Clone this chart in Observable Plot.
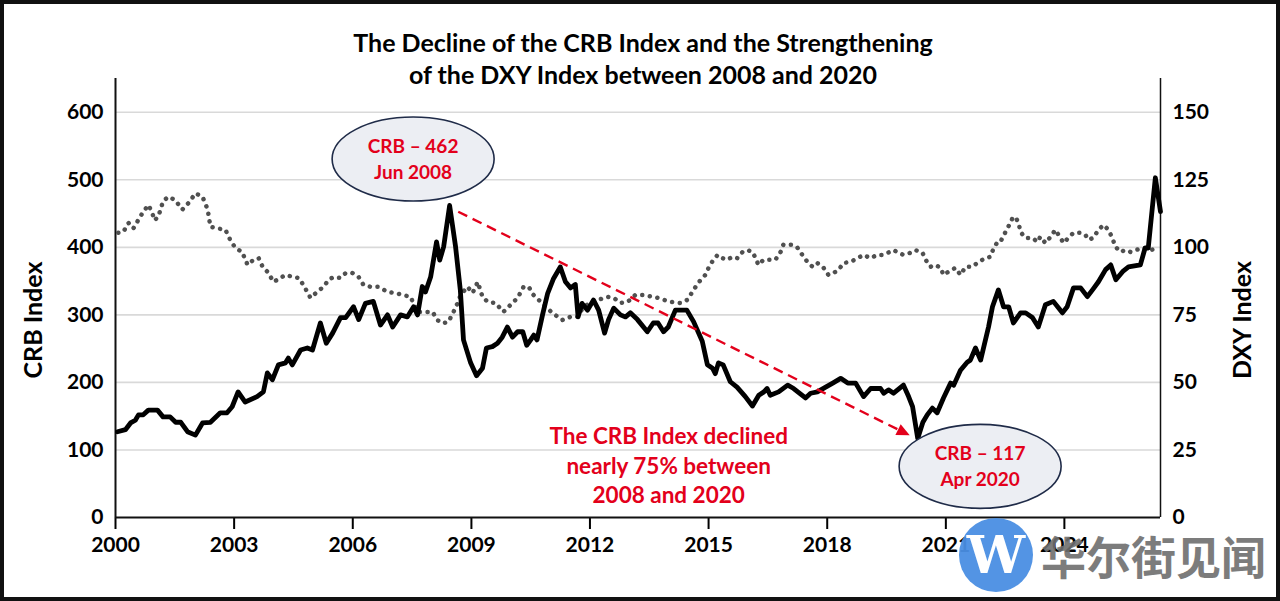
<!DOCTYPE html>
<html>
<head>
<meta charset="utf-8">
<script src="https://cdn.jsdelivr.net/npm/d3@7"></script>
<script src="https://cdn.jsdelivr.net/npm/@observablehq/plot@0.6"></script>
<style>
  html, body { margin: 0; padding: 0; background: #fff; }
  #wrap { position: relative; width: 1280px; height: 601px; overflow: hidden; background: #fff; font-family: Lato, "Open Sans", sans-serif; }
  #chart { position: absolute; left: 0; top: 0; }
  .title { position: absolute; left: 0; width: 1286px; text-align: center; font-weight: bold; font-size: 25px; line-height: 30px; color: #000; }
  .ylab { position: absolute; font-weight: bold; font-size: 25px; color: #000; transform: translate(-50%, -50%) rotate(-90deg); white-space: nowrap; }
  #frame { position: absolute; left: 0; top: 0; width: 1280px; height: 601px; box-sizing: border-box; border: 4px solid #111; pointer-events: none; }
  #wm-logo { position: absolute; left: 959px; top: 518px; width: 74px; height: 74px; border-radius: 50%; background: #4a8fe3; color: #fff; font: bold 52px "DejaVu Serif", serif; text-align: center; line-height: 74px; opacity: 0.95; }
  #wm-text { position: absolute; left: 1041px; top: 535px; font: bold 45px "Noto Sans CJK SC", sans-serif; color: #6e6e6e; opacity: 0.9; white-space: nowrap; line-height: 42px; height: 42px; }
</style>
</head>
<body>
<div id="wrap">
  <div id="chart"></div>
  <div class="title" style="top:27px;">The Decline of the CRB Index and the Strengthening</div>
  <div class="title" style="top:59px;">of the DXY Index between 2008 and 2020</div>
  <div class="ylab" style="left:32px; top:320px;">CRB Index</div>
  <div class="ylab" style="left:1241px; top:320px;">DXY Index</div>
  <div id="wm-logo">W</div>
  <div id="wm-text">华尔街见闻</div>
  <div id="frame"></div>
</div>
<script>
// ---- Data (decimal years) ----
const crbYears = [2000.05,2000.25,2000.38,2000.5,2000.58,2000.7,2000.83,2001.06,2001.2,2001.38,2001.52,2001.65,2001.82,2002.02,2002.2,2002.4,2002.65,2002.82,2002.95,2003.1,2003.28,2003.58,2003.74,2003.84,2003.97,2004.12,2004.3,2004.37,2004.47,2004.68,2004.85,2004.98,2005.18,2005.33,2005.49,2005.69,2005.82,2006.02,2006.15,2006.32,2006.52,2006.7,2006.88,2007.01,2007.21,2007.38,2007.54,2007.64,2007.76,2007.84,2007.97,2008.12,2008.2,2008.3,2008.45,2008.6,2008.72,2008.8,2008.98,2009.13,2009.28,2009.38,2009.53,2009.66,2009.78,2009.91,2010.04,2010.17,2010.3,2010.4,2010.5,2010.58,2010.66,2010.8,2010.93,2011.08,2011.25,2011.38,2011.51,2011.63,2011.7,2011.8,2011.94,2012.09,2012.22,2012.37,2012.47,2012.6,2012.77,2012.9,2013.02,2013.2,2013.45,2013.6,2013.72,2013.86,2013.98,2014.16,2014.33,2014.45,2014.62,2014.84,2014.97,2015.1,2015.17,2015.25,2015.37,2015.55,2015.72,2015.93,2016.11,2016.27,2016.4,2016.48,2016.56,2016.77,2017.0,2017.15,2017.45,2017.58,2017.75,2017.96,2018.14,2018.34,2018.52,2018.72,2018.92,2019.1,2019.35,2019.43,2019.55,2019.68,2019.93,2020.06,2020.16,2020.29,2020.42,2020.53,2020.66,2020.78,2020.94,2021.12,2021.2,2021.37,2021.54,2021.62,2021.75,2021.88,2022.08,2022.18,2022.33,2022.46,2022.59,2022.71,2022.89,2023.02,2023.19,2023.34,2023.52,2023.72,2023.95,2024.07,2024.23,2024.41,2024.58,2024.71,2024.86,2025.04,2025.17,2025.3,2025.47,2025.62,2025.92,2026.04,2026.12,2026.3,2026.43];
const crbValues = [127,130,140,144,152,152,159,159,149,149,141,141,127,122,140,141,155,155,164,186,171,179,186,214,204,226,229,236,226,248,251,248,288,258,273,296,296,312,293,317,320,285,300,282,300,297,312,300,342,334,356,408,381,401,462,401,337,263,229,210,221,251,253,258,267,282,267,275,275,255,263,270,263,300,332,354,371,349,340,345,297,317,307,322,307,273,293,310,300,297,303,293,275,288,288,275,282,307,307,307,290,261,226,221,213,229,226,201,193,179,165,181,186,191,181,186,196,191,177,184,186,193,199,206,199,199,179,191,191,184,189,184,196,179,164,117,141,152,162,155,177,199,196,218,230,233,251,233,282,312,337,312,312,288,303,303,296,282,315,320,303,312,340,340,327,337,349,367,374,352,364,371,374,399,399,503,453];

const dxyYears = [2000.07,2000.2,2000.33,2000.45,2000.55,2000.68,2000.83,2000.93,2000.98,2001.08,2001.2,2001.33,2001.5,2001.69,2001.85,2002.02,2002.2,2002.33,2002.4,2002.58,2002.78,2002.9,2003.03,2003.2,2003.34,2003.49,2003.62,2003.72,2003.84,2004.0,2004.17,2004.3,2004.5,2004.63,2004.75,2004.93,2005.1,2005.26,2005.39,2005.51,2005.69,2005.82,2005.99,2006.15,2006.27,2006.45,2006.65,2006.88,2007.08,2007.26,2007.46,2007.64,2007.79,2008.02,2008.14,2008.27,2008.42,2008.6,2008.73,2008.9,2009.03,2009.16,2009.28,2009.41,2009.61,2009.81,2009.99,2010.17,2010.32,2010.45,2010.57,2010.7,2010.88,2011.05,2011.3,2011.51,2011.68,2011.84,2012.01,2012.22,2012.44,2012.6,2012.77,2012.95,2013.15,2013.35,2013.58,2013.71,2013.86,2014.04,2014.29,2014.47,2014.62,2014.8,2014.92,2015.0,2015.12,2015.23,2015.35,2015.48,2015.6,2015.73,2015.86,2015.98,2016.11,2016.19,2016.26,2016.39,2016.57,2016.69,2016.82,2016.89,2017.12,2017.25,2017.37,2017.5,2017.63,2017.75,2017.91,2018.03,2018.16,2018.29,2018.41,2018.59,2018.77,2018.92,2019.09,2019.27,2019.42,2019.68,2019.8,2019.93,2020.11,2020.23,2020.41,2020.49,2020.61,2020.74,2020.87,2020.94,2021.07,2021.24,2021.37,2021.5,2021.67,2021.83,2022.0,2022.13,2022.21,2022.31,2022.38,2022.51,2022.58,2022.69,2022.76,2022.84,2022.89,2023.01,2023.19,2023.32,2023.39,2023.52,2023.65,2023.77,2023.9,2023.98,2024.1,2024.23,2024.41,2024.53,2024.61,2024.73,2024.86,2024.99,2025.11,2025.21,2025.29,2025.42,2025.54,2025.67,2025.8,2026.0,2026.18,2026.38];
const dxyValues = [105.4,105.8,109,107,109.5,112.7,115.7,112.7,110,111.3,117,118.7,117.6,114,116.5,120,118.7,114,107.6,107,106.5,102.8,99.8,98.3,93.5,95.4,96,92.8,91,87.2,88.7,89.8,89,88.7,86.1,81.3,83.5,85.4,88,89,88.7,90.5,90.5,89,86.1,85.4,85.4,83.5,83.1,82.4,81.7,76.1,76.1,76.1,73.1,71.9,72.4,77.6,82.4,85.4,83.1,87.2,81.7,79.8,79.4,76.1,78.7,81.3,85.4,85.4,82.4,80.6,78,75.7,73.1,74.3,74.3,78,79.4,80.6,81.7,81.3,79.4,79.8,82.4,82.4,81.7,81.3,80.6,79.8,79.4,80.6,84.3,88,89.8,92.4,95.4,97.2,96,95.4,96.5,96,98.3,99,98.3,96,93.5,95.4,95.4,95.4,98.3,101,101,99.8,97.2,94.6,92.8,94.2,92.4,89.8,90.5,91.7,94.2,94.6,96,97.2,96,97.2,97.2,99,98,97.2,98,99,98,95.4,92.8,93.5,92.4,89.8,91,92.4,89.8,92.8,92.8,94.6,96,96.5,99.8,102,102,105.7,107.6,110.9,111.3,109,105.7,103.5,103.5,102,103.9,101.6,103.9,106.5,103.5,101.6,103.5,105.4,105.4,104.6,102.8,103.5,106.5,108.3,106.5,103.5,100.2,98.3,99,98.3,99,99.8,99,99.8];

const crbTicks = [0, 100, 200, 300, 400, 500, 600];
const dxyTickLabels = [0, 25, 50, 75, 100, 125, 150];
const yearTicks = [2000, 2003, 2006, 2009, 2012, 2015, 2018, 2021, 2024];
const xStart = 2000, xEnd = 2026.43;

// annotations
const peak = {year: 2008.45, value: 462, label: "CRB – 462\nJun 2008", boxYear: 2007.54, boxValue: 530};
const trough = {year: 2020.29, value: 117, label: "CRB – 117\nApr 2020", boxYear: 2021.88, boxValue: 75};
const arrowFrom = {year: 2008.68, value: 452};
const arrowTo = {year: 2020.1, value: 121};
const note = {year: 2013.99, value: 79, text: "The CRB Index declined\nnearly 75% between\n2008 and 2020"};

// ---- helpers ----
function dec(y) {
  const yr = Math.floor(y);
  const s = Date.UTC(yr, 0, 1), e = Date.UTC(yr + 1, 0, 1);
  return new Date(s + (y - yr) * (e - s));
}
const DXY_FACTOR = 4; // 150 DXY ↔ 600 CRB
const crb = crbYears.map((y, i) => ({date: dec(y), value: crbValues[i]}));
const dxy = dxyYears.map((y, i) => ({date: dec(y), value: dxyValues[i] * DXY_FACTOR}));

const red = "#e3001b";

function ellipseMark(items) {
  return (index, scales) => {
    const g = d3.create("svg:g");
    for (const it of items) {
      const cx = scales.x(dec(it.boxYear)), cy = scales.y(it.boxValue);
      g.append("ellipse").attr("cx", cx).attr("cy", cy).attr("rx", 81).attr("ry", 42)
        .attr("fill", "#eceef3").attr("stroke", "#1f2b48").attr("stroke-width", 1.6);
      const lines = it.label.split("\n");
      lines.forEach((t, k) => {
        g.append("text").attr("x", cx).attr("y", cy + (k - 0.5) * 26 + 7)
          .attr("text-anchor", "middle").attr("fill", red)
          .attr("font-family", "Lato, sans-serif").attr("font-weight", "bold").attr("font-size", 19)
          .text(t);
      });
    }
    return g.node();
  };
}

function arrowMark(from, to) {
  return (index, scales) => {
    const g = d3.create("svg:g");
    const x1 = scales.x(dec(from.year)), y1 = scales.y(from.value);
    const x2 = scales.x(dec(to.year)), y2 = scales.y(to.value);
    const ang = Math.atan2(y2 - y1, x2 - x1);
    const hl = 13, hw = 6;
    const bx = x2 - hl * Math.cos(ang), by = y2 - hl * Math.sin(ang);
    g.append("line").attr("x1", x1).attr("y1", y1).attr("x2", bx).attr("y2", by)
      .attr("stroke", red).attr("stroke-width", 2.4).attr("stroke-dasharray", "10 6");
    const px = -Math.sin(ang), py = Math.cos(ang);
    g.append("path")
      .attr("d", `M${x2},${y2}L${bx + px * hw},${by + py * hw}L${bx - px * hw},${by - py * hw}Z`)
      .attr("fill", red);
    return g.node();
  };
}

const chart = Plot.plot({
  width: 1280,
  height: 601,
  marginLeft: 115,
  marginRight: 120,
  marginTop: 78,
  marginBottom: 84,
  style: {fontFamily: "Lato, sans-serif", fontSize: "21px", fontWeight: "bold", background: "transparent", color: "#000", overflow: "visible"},
  x: {type: "utc", domain: [dec(xStart), dec(xEnd)]},
  y: {domain: [0, 650]},
  marks: [
    Plot.ruleY(crbTicks.filter(d => d > 0), {stroke: "#d9d9d9", strokeWidth: 1.6}),
    Plot.axisY({anchor: "left", ticks: crbTicks, tickSize: 0, tickPadding: 12, label: null, fontSize: 21}),
    Plot.axisY({anchor: "right", ticks: dxyTickLabels.map(d => d * DXY_FACTOR), tickFormat: d => String(d / DXY_FACTOR), tickSize: 0, tickPadding: 12, label: null, fontSize: 21}),
    Plot.axisX({ticks: yearTicks.map(dec), tickFormat: d => String(d.getUTCFullYear()), tickSize: 12, tickPadding: 8, strokeWidth: 2, label: null, fontSize: 21}),
    Plot.ruleX([dec(xStart)], {stroke: "#111", strokeWidth: 2}),
    Plot.ruleX([dec(xEnd)], {stroke: "#111", strokeWidth: 1.5}),
    Plot.line(dxy, {x: "date", y: "value", stroke: "#505050", strokeWidth: 4.5, strokeLinecap: "round", strokeDasharray: "0.1 7.6", curve: "linear"}),
    Plot.line(crb, {x: "date", y: "value", stroke: "#000", strokeWidth: 4.8, strokeLinejoin: "round"}),
    Plot.ruleY([0], {stroke: "#111", strokeWidth: 2}),
    arrowMark(arrowFrom, arrowTo),
    ellipseMark([peak, trough]),
    Plot.text([note], {x: d => dec(d.year), y: "value", text: "text", fill: red, fontSize: 22.5, fontWeight: "bold", lineHeight: 1.32, textAnchor: "middle"})
  ]
});
document.getElementById("chart").appendChild(chart);
</script>
</body>
</html>
